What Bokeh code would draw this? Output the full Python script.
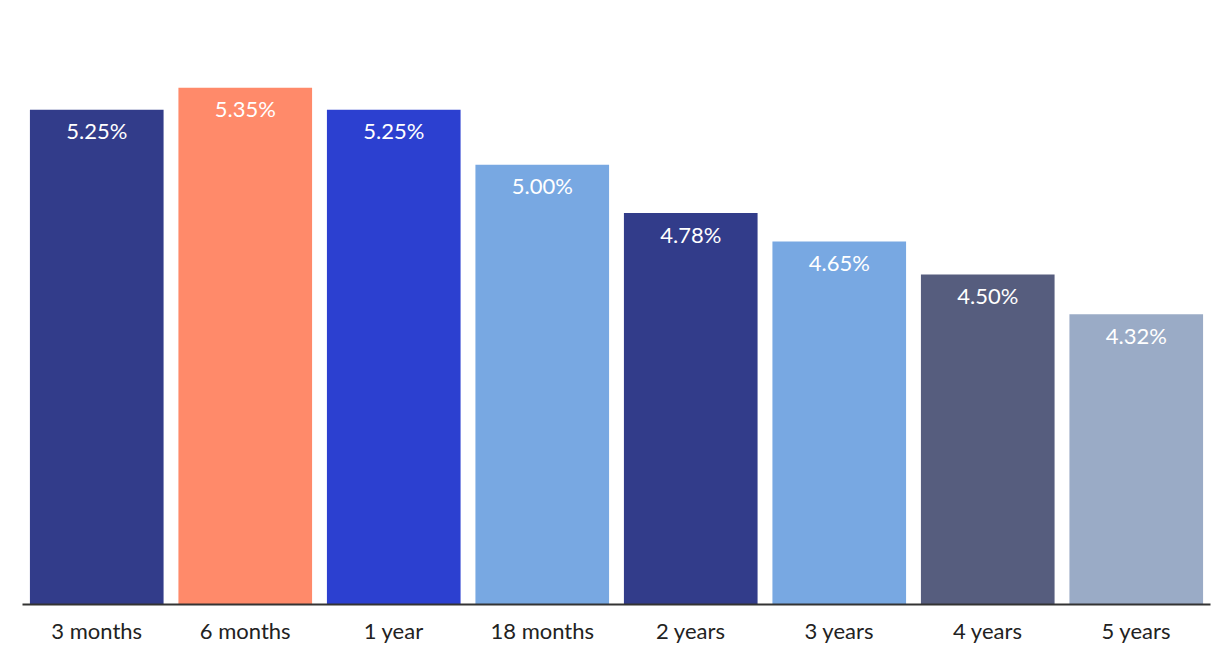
from bokeh.plotting import figure
from bokeh.models import ColumnDataSource, Range1d, FactorRange
from bokeh.embed import file_html
from bokeh.resources import INLINE
from bokeh.core.properties import value

categories = ["3 months", "6 months", "1 year", "18 months", "2 years", "3 years", "4 years", "5 years"]
rates = [5.25, 5.35, 5.25, 5.00, 4.78, 4.65, 4.50, 4.32]
colors = ["#323c8a", "#ff8a6a", "#2c40d0", "#78a8e2", "#323c8a", "#78a8e2", "#565d7e", "#9aabc6"]
labels = [f"{r:.2f}%" for r in rates]

FONT = "Lato"

src = ColumnDataSource(dict(cat=categories, rate=rates, color=colors, label=labels))

p = figure(x_range=FactorRange(*categories, range_padding=0), y_range=Range1d(3.0, 5.71),
           width=1212, height=646, output_backend="svg", toolbar_location=None,
           min_border_left=22, min_border_right=2, min_border_top=8, min_border_bottom=0)

p.vbar(x="cat", top="rate", bottom=3.0, width=0.9, color="color", source=src, line_color=None)
p.text(x="cat", y="rate", text="label", source=src, text_align="center", text_baseline="middle",
       y_offset=21, text_color="white", text_font=value(FONT), text_font_size="22px")

p.yaxis.visible = False
p.grid.visible = False
p.outline_line_color = None
p.xaxis.axis_line_color = "#333333"
p.xaxis.axis_line_width = 2
p.xaxis.major_tick_line_color = None
p.xaxis.minor_tick_line_color = None
p.xaxis.major_tick_out = 0
p.xaxis.major_tick_in = 0
p.xaxis.major_label_text_font = FONT
p.xaxis.major_label_text_font_size = "22px"
p.xaxis.major_label_text_color = "#222222"
p.xaxis.major_label_standoff = 12

open("out.html", "w").write(file_html(p, INLINE))
